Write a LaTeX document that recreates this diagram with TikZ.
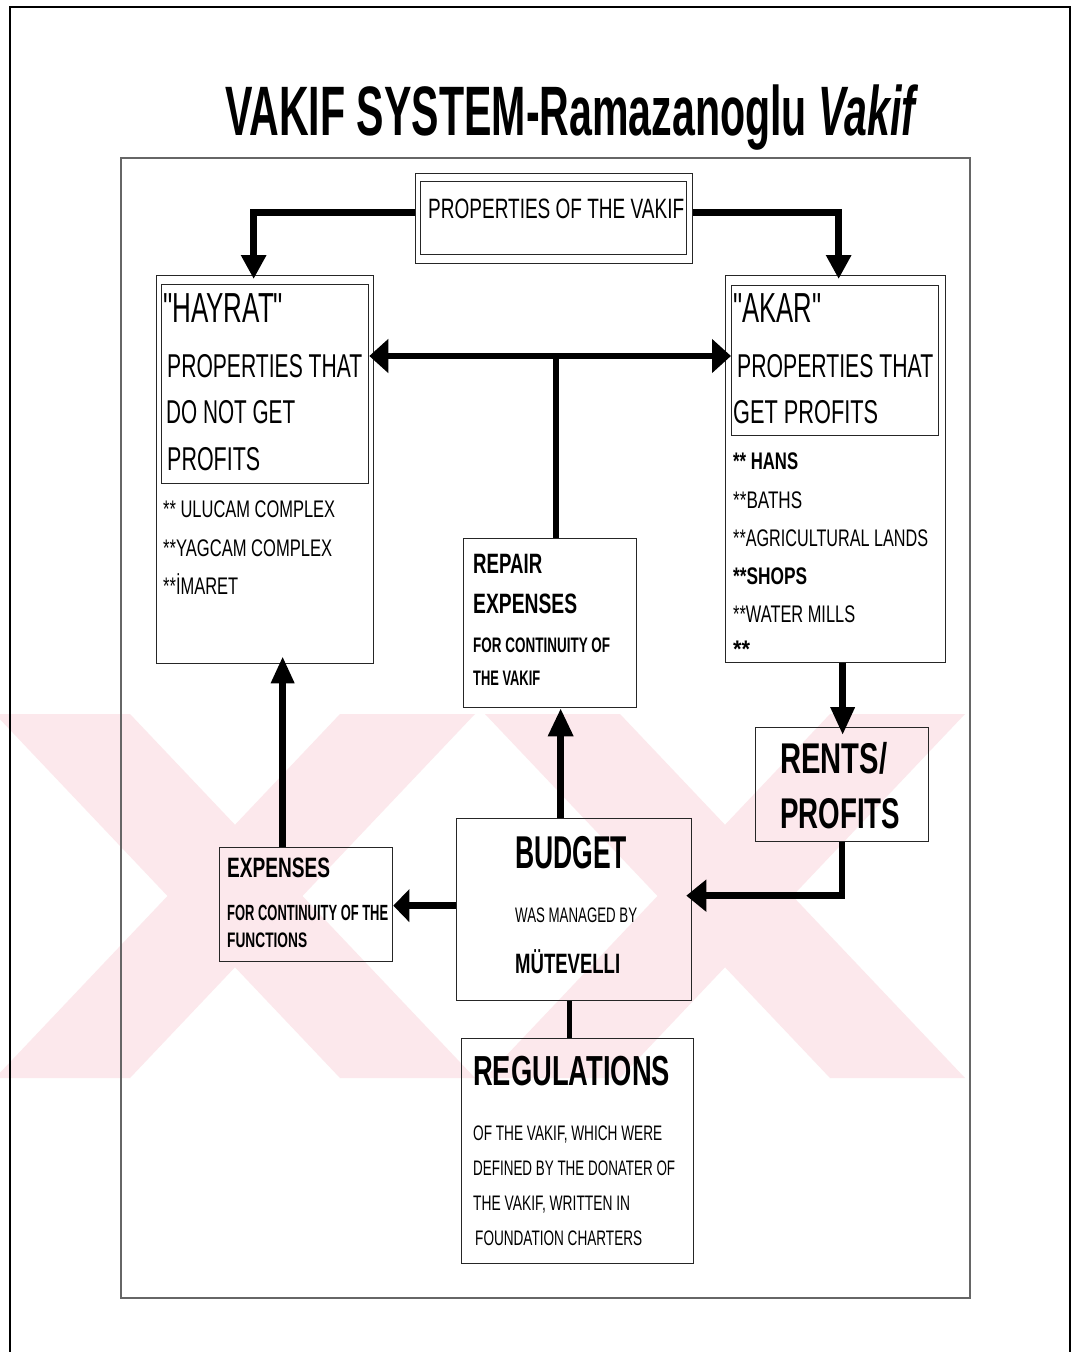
\documentclass[tikz,border=0pt]{standalone}
\usepackage{graphicx}
\usepackage{fontspec}
\setmainfont{Liberation Sans}
\usetikzlibrary{arrows.meta}

% one text line: name, x, baseline y, width, size, text
\newcommand{\tline}[6]{\node[anchor=base west, inner sep=0pt] (#1) at (#2,#3)
  {\fontsize{#5}{#5}\selectfont\resizebox{#4pt}{\height}{#6}};}
% straight double quote, set as a glyph so no ligature mapping turns it curly
\newcommand{\dq}{\XeTeXglyph\XeTeXcharglyph"22\relax}
% one pale cross of the background band: centre x, half span, bar width
\newcommand{\bandx}[3]{%
  \fill[wmark] (#1-#2,714) -- (#1-#2+#3,714) -- (#1+#2,1078) -- (#1+#2-#3,1078) -- cycle;
  \fill[wmark] (#1+#2,714) -- (#1+#2-#3,714) -- (#1-#2,1078) -- (#1-#2+#3,1078) -- cycle;}

\definecolor{wmpink}{RGB}{252,232,236}

\tikzset{
  box/.style={draw=black!85, line width=1.3pt, anchor=north west, inner sep=0pt},
  flow/.style={line width=6.5pt, line join=miter},
  wmark/.style={fill=wmpink},
}

\begin{document}
\begin{tikzpicture}[x=1pt,y=-1pt]
\useasboundingbox (0,0) rectangle (1071,1352);
\fill[white] (0,0) rectangle (1071,1352);

% pale background band of crossed bars
\begin{scope}
  \clip (0,714) rectangle (965,1078);
  \bandx{235}{240}{135}
  \bandx{725}{240}{135}
\end{scope}

% page frames
\draw[line width=2pt] (10,1360) -- (10,7) -- (1070,7) -- (1070,1360);
\draw[line width=1.1pt, black!60] (121,158) rectangle (970,1298);

% title
\node[anchor=base west, inner sep=0pt] (title) at (225,135)
  {\fontsize{70}{70}\selectfont\bfseries\resizebox{690pt}{\height}{VAKIF SYSTEM-Ramazanoglu \itshape Vakif}};

% boxes
\node[box, minimum width=277pt, minimum height=90pt] (props) at (415,173) {};
\node[box, minimum width=266pt, minimum height=73pt] (propsin) at (420,181) {};
\node[box, minimum width=217pt, minimum height=388pt] (hayrat) at (156,275) {};
\node[box, minimum width=207pt, minimum height=199pt] (hayin) at (161,284) {};
\node[box, minimum width=220pt, minimum height=387pt] (akar) at (725,275) {};
\node[box, minimum width=207pt, minimum height=150pt] (akarin) at (731,285) {};
\node[box, minimum width=173pt, minimum height=169pt] (repair) at (463,538) {};
\node[box, minimum width=235pt, minimum height=182pt] (budget) at (456,818) {};
\node[box, minimum width=173pt, minimum height=114pt] (expenses) at (219,847) {};
\node[box, minimum width=173pt, minimum height=114pt] (rents) at (755,727) {};
\node[box, minimum width=232pt, minimum height=225pt] (regs) at (461,1038) {};

% texts
\tline{tprops}{428}{218}{256}{28}{PROPERTIES OF THE VAKIF}

\tline{th1}{163}{322}{120}{42}{\dq HAYRAT\dq}
\tline{th2}{167}{377}{195}{33}{PROPERTIES THAT}
\tline{th3}{166}{423}{129}{33}{DO NOT GET}
\tline{th4}{167}{470}{93}{33}{PROFITS}
\tline{th5}{163}{517}{172}{24}{** ULUCAM COMPLEX}
\tline{th6}{163}{556}{169}{24}{**YAGCAM COMPLEX}
\tline{th7}{163}{594}{75}{24}{**İMARET}

\tline{ta1}{733}{322}{88}{42}{\dq AKAR\dq}
\tline{ta2}{737}{377}{196}{33}{PROPERTIES THAT}
\tline{ta3}{733}{423}{145}{33}{GET PROFITS}
\tline{ta4}{733}{469}{65}{24}{\bfseries ** HANS}
\tline{ta5}{733}{508}{69}{24}{**BATHS}
\tline{ta6}{733}{546}{195}{24}{**AGRICULTURAL LANDS}
\tline{ta7}{733}{584}{74}{24}{\bfseries **SHOPS}
\tline{ta8}{733}{622}{122}{24}{**WATER MILLS}
\tline{ta9}{733}{657}{17}{24}{\bfseries **}

\tline{tr1}{473}{573}{69}{28}{\bfseries REPAIR}
\tline{tr2}{473}{613}{104}{28}{\bfseries EXPENSES}
\tline{tr3}{473}{652}{137}{21}{\bfseries FOR CONTINUITY OF}
\tline{tr4}{473}{685}{67}{21}{\bfseries THE VAKIF}

\tline{tb1}{515}{868}{112}{46}{\bfseries BUDGET}
\tline{tb2}{515}{922}{122}{21}{WAS MANAGED BY}
\tline{tb3}{515}{973}{105}{28}{\bfseries MÜTEVELLI}

\tline{te1}{227}{877}{103}{28}{\bfseries EXPENSES}
\tline{te2}{227}{920}{161}{22}{\bfseries FOR CONTINUITY OF THE}
\tline{te3}{227}{947}{80}{21}{\bfseries FUNCTIONS}

\tline{tn1}{780}{773}{107}{43}{\bfseries RENTS/}
\tline{tn2}{780}{828}{120}{43}{\bfseries PROFITS}

\tline{tg1}{473}{1085}{197}{42}{\bfseries REGULATIONS}
\tline{tg2}{473}{1140}{189}{21}{OF THE VAKIF, WHICH WERE}
\tline{tg3}{473}{1175}{202}{21}{DEFINED BY THE DONATER OF}
\tline{tg4}{473}{1210}{157}{21}{THE VAKIF, WRITTEN IN}
\tline{tg5}{475}{1245}{167}{21}{FOUNDATION CHARTERS}

% connectors
\coordinate (junc) at (556,356);
\draw[flow, -{Triangle[length=24pt,width=24pt]}]
  ([yshift=6pt]props.west) -| ([xshift=-11.5pt,yshift=-4pt]hayrat.north);
\draw[flow, -{Triangle[length=24pt,width=24pt]}]
  ([yshift=6pt]props.east) -| ([xshift=3pt,yshift=-4pt]akar.north);
\draw[flow, {Triangle[length=19pt,width=33pt]}-{Triangle[length=19pt,width=33pt]}]
  (junc -| hayin.east) -- (junc -| akarin.west);
\draw[flow] (junc) -- (junc |- repair.north);
\draw[flow, -{Triangle[length=28pt,width=24pt]}]
  ([xshift=-13.5pt]budget.north) -- ([xshift=-13.5pt]budget.north |- repair.south);
\draw[flow, -{Triangle[length=16pt,width=32pt]}]
  ([yshift=4pt]budget.west) -- ([yshift=4pt]budget.west -| expenses.east);
\draw[flow, -{Triangle[length=27pt,width=22pt]}]
  ([xshift=-23.5pt]expenses.north) -- ([xshift=-23.5pt,yshift=8pt]expenses.north |- hayrat.south);
\draw[flow, -{Triangle[length=28pt,width=23pt]}]
  ([xshift=7pt]akar.south) -- ([xshift=7pt,yshift=-8pt]akar.south |- rents.north);
\draw[flow, -{Triangle[length=20pt,width=31pt]}]
  (rents.south) |- ([xshift=-6pt,yshift=14pt]budget.east);
\draw[line width=5pt] ([xshift=-4.5pt]budget.south) -- ([xshift=-4.5pt]budget.south |- regs.north);
\end{tikzpicture}
\end{document}
